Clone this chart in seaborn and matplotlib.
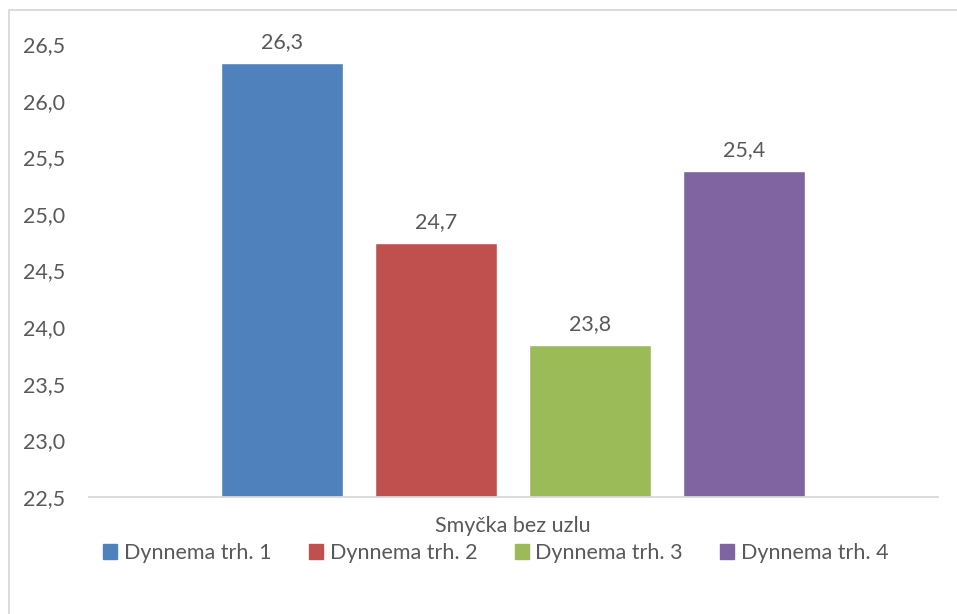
import matplotlib
matplotlib.use("Agg")
import matplotlib.pyplot as plt
import seaborn as sns
import pandas as pd
from matplotlib.patches import Rectangle

series = ["Dynnema trh. 1", "Dynnema trh. 2", "Dynnema trh. 3", "Dynnema trh. 4"]
values = [26.33, 24.74, 23.84, 25.38]
colors = ["#4F81BD", "#C0504D", "#9BBB59", "#8064A2"]
category = "Smyčka bez uzlu"
yticks = [22.5, 23.0, 23.5, 24.0, 24.5, 25.0, 25.5, 26.0, 26.5]

sns.set_theme(style="white")
plt.rcParams['font.family'] = ['Lato', 'DejaVu Sans']
txt = "#595959"
fs = 15.5

W, H = 957, 614
fig = plt.figure(figsize=(W / 100, H / 100), dpi=100)
ax = fig.add_axes([89 / W, (H - 497) / H, (938 - 89) / W, (497 - 44) / H])

df = pd.DataFrame({"series": series, "value": values})
sns.barplot(data=df, x="series", y="value", hue="series", palette=colors,
            order=series, hue_order=series, dodge=False, width=122 / 154,
            ax=ax, legend=False, saturation=1)

ax.set_ylim(22.5, 26.5)
ax.set_xlim((89 - 282) / 154, (938 - 282) / 154)
ax.set_yticks(yticks)
ax.set_yticklabels([f"{v:.1f}".replace(".", ",") for v in yticks], fontsize=fs, color=txt)
ax.tick_params(axis="y", length=0, pad=17)
ax.set_xticks([])
ax.set_xlabel("")
ax.set_ylabel("")
for s in ["top", "right", "left"]:
    ax.spines[s].set_visible(False)
ax.spines["bottom"].set_color("#d9d9d9")
ax.spines["bottom"].set_linewidth(1.3)

for p, v in zip(ax.patches, values):
    ax.annotate(f"{v:.1f}".replace(".", ","), (p.get_x() + p.get_width() / 2, v),
                xytext=(0, 8), textcoords="offset points", ha="center", va="bottom",
                fontsize=fs, color=txt)

fig.text(513 / W, 1 - 526 / H, category, ha="center", va="center", fontsize=fs, color=txt)

handles = [Rectangle((0, 0), 1, 1, color=c) for c in colors]
fig.legend(handles, series, loc="center", bbox_to_anchor=(496 / W, 1 - 553 / H),
           ncol=4, frameon=False, fontsize=fs, labelcolor=txt, handlelength=0.65,
           handleheight=0.65, handletextpad=0.3, columnspacing=1.75,
           borderpad=0, borderaxespad=0)

border = Rectangle((9 / W, -0.1), 1.2, (H - 10) / H + 0.1, transform=fig.transFigure,
                   fill=False, edgecolor="#d9d9d9", linewidth=1.3, clip_on=False)
fig.add_artist(border)

fig.savefig("out.png", dpi=100)
